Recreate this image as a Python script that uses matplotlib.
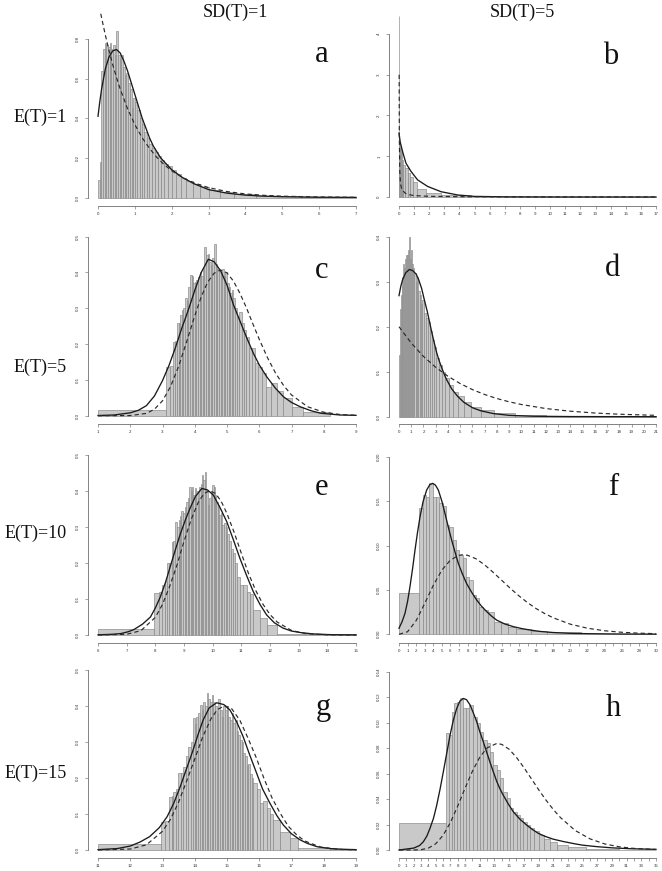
import numpy as np
import matplotlib
matplotlib.use("Agg")
import matplotlib.pyplot as plt

W, H = 662, 871

# ---------------- data ----------------
# panel a : E(T)=1, SD(T)=1
a_edges = [0, 0.045, 0.09, 0.135, 0.18, 0.225, 0.27, 0.315, 0.36, 0.405, 0.45, 0.495, 0.54, 0.585, 0.63,
           0.675, 0.72, 0.765, 0.81, 0.86, 0.91, 0.96, 1.01, 1.07, 1.13, 1.19, 1.25, 1.32, 1.39, 1.46,
           1.54, 1.62, 1.71, 1.80, 1.90, 2.00, 2.12, 2.25, 2.40, 2.57, 2.77, 3.00, 3.3, 3.7, 4.3, 5.5, 7.0]
a_heights = [0.09, 0.18, 0.64, 0.75, 0.78, 0.77, 0.76, 0.78, 0.75, 0.77, 0.72, 0.84, 0.72, 0.70, 0.72,
             0.66, 0.62, 0.63, 0.58, 0.55, 0.45, 0.50, 0.48, 0.44, 0.40, 0.37, 0.33, 0.30, 0.27, 0.25,
             0.23, 0.21, 0.19, 0.17, 0.16, 0.14, 0.12, 0.10, 0.085, 0.07, 0.055, 0.04, 0.028, 0.017, 0.007, 0.002]
a_solid_x = [0, 0.05, 0.1, 0.2, 0.3, 0.4, 0.5, 0.6, 0.7, 0.8, 0.9, 1.0, 1.1, 1.2, 1.3, 1.4, 1.5, 1.7, 2.0, 2.3, 2.6, 3.0, 3.5, 4.0, 4.5, 5, 6, 7]
a_solid_y = [0.41, 0.485, 0.55, 0.65, 0.71, 0.74, 0.747, 0.73, 0.69, 0.64, 0.58, 0.52, 0.46, 0.40, 0.35, 0.30, 0.26, 0.20, 0.14, 0.10, 0.07, 0.04, 0.022, 0.012, 0.007, 0.004, 0.0015, 0.0005]
a_dash_x = [0, 0.05, 0.1, 0.2, 0.3, 0.4, 0.5, 0.6, 0.8, 1.0, 1.2, 1.4, 1.6, 1.8, 2.0, 2.3, 2.6, 3.0, 3.5, 4.0, 4.5, 5, 6, 7]
a_dash_y = [1.0, 0.95, 0.905, 0.819, 0.741, 0.670, 0.607, 0.549, 0.449, 0.368, 0.301, 0.247, 0.202, 0.165, 0.135, 0.100, 0.074, 0.050, 0.030, 0.018, 0.011, 0.0067, 0.0025, 0.0009]

# panel b : E(T)=1, SD(T)=5
b_edges = [0, 0.012, 0.03, 0.06, 0.1, 0.17, 0.24, 0.4, 0.57, 0.73, 0.9, 1.19, 1.78, 2.78, 4.76, 17]
b_heights = [4.45, 1.5, 1.3, 1.2, 1.1, 0.9, 0.78, 0.72, 0.6, 0.5, 0.38, 0.19, 0.11, 0.05, 0.003]
b_solid_x = [0, 0.08, 0.24, 0.46, 0.79, 1.23, 1.89, 2.78, 3.88, 4.98, 7, 10, 17]
b_solid_y = [1.57, 1.35, 1.11, 0.83, 0.63, 0.42, 0.26, 0.13, 0.05, 0.015, 0.004, 0.001, 0.0]
b_dash_x = [0.01, 0.02, 0.05, 0.1, 0.2, 0.5, 1, 2, 4, 8, 12, 17]
b_dash_y = [3.0, 1.54, 0.64, 0.327, 0.168, 0.068, 0.0345, 0.017, 0.0081, 0.0035, 0.0021, 0.0012]

# panel c : E(T)=5, SD(T)=1
c_edges = [1, 3.10, 3.22, 3.32, 3.38, 3.44, 3.50, 3.55, 3.60, 3.65, 3.70, 3.75, 3.80, 3.85, 3.90, 3.95,
           4.00, 4.05, 4.10, 4.15, 4.20, 4.25, 4.30, 4.35, 4.40, 4.45, 4.50, 4.55, 4.60, 4.65, 4.70, 4.75,
           4.80, 4.85, 4.90, 4.95, 5.00, 5.05, 5.10, 5.15, 5.20, 5.26, 5.32, 5.38, 5.45, 5.52, 5.60, 5.68,
           5.77, 5.86, 5.96, 6.07, 6.20, 6.35, 6.54, 6.75, 7.01, 7.37, 8.2]
c_heights = [0.016, 0.137, 0.14, 0.207, 0.21, 0.258, 0.26, 0.28, 0.295, 0.30, 0.33, 0.32, 0.36, 0.393, 0.39,
             0.37, 0.374, 0.38, 0.388, 0.40, 0.39, 0.41, 0.472, 0.45, 0.453, 0.43, 0.42, 0.44, 0.481, 0.425,
             0.41, 0.407, 0.40, 0.41, 0.39, 0.40, 0.37, 0.36, 0.342, 0.35, 0.33, 0.30, 0.277, 0.29, 0.26,
             0.239, 0.22, 0.188, 0.19, 0.146, 0.137, 0.12, 0.081, 0.09, 0.07, 0.049, 0.025, 0.011]
c_solid_x = [1, 1.5, 2.0, 2.25, 2.5, 2.75, 3.0, 3.2, 3.4, 3.6, 3.8, 4.0, 4.2, 4.42, 4.6, 4.8, 5.0, 5.2, 5.4,
             5.6, 5.82, 6.0, 6.23, 6.5, 6.75, 7.0, 7.27, 7.6, 7.9, 8.5, 9]
c_solid_y = [0.0005, 0.002, 0.008, 0.015, 0.028, 0.055, 0.098, 0.14, 0.19, 0.245, 0.295, 0.35, 0.40, 0.437, 0.43,
             0.405, 0.365, 0.31, 0.265, 0.22, 0.174, 0.142, 0.109, 0.077, 0.053, 0.037, 0.025, 0.014, 0.007, 0.002, 0.001]
c_dash_x = [1, 2, 2.5, 2.75, 3, 3.25, 3.5, 3.75, 4, 4.2, 4.4, 4.6, 4.8, 5.0, 5.2, 5.4, 5.6, 5.8, 6, 6.25, 6.5, 6.75, 7, 7.5, 8, 8.5, 9]
c_dash_y = [0.0, 0.0004, 0.0064, 0.018, 0.0416, 0.0814, 0.138, 0.207, 0.279, 0.332, 0.373, 0.398, 0.407, 0.399, 0.376,
            0.342, 0.302, 0.257, 0.2135, 0.163, 0.120, 0.085, 0.058, 0.025, 0.0097, 0.0034, 0.0011]

# panel d : E(T)=5, SD(T)=5
d_edges = [0, 0.07, 0.14, 0.21, 0.28, 0.35, 0.43, 0.51, 0.59, 0.67, 0.75, 0.83, 0.91, 0.99, 1.08, 1.17,
           1.26, 1.36, 1.46, 1.57, 1.68, 1.80, 1.92, 2.05, 2.19, 2.34, 2.50, 2.67, 2.85, 3.05, 3.27, 3.51,
           3.78, 4.08, 4.42, 4.82, 5.30, 5.9, 6.7, 7.8, 9.5, 12, 21]
d_heights = [0.137, 0.24, 0.27, 0.29, 0.31, 0.34, 0.33, 0.35, 0.36, 0.36, 0.37, 0.40, 0.35, 0.37, 0.34,
             0.33, 0.32, 0.30, 0.31, 0.28, 0.27, 0.25, 0.26, 0.23, 0.22, 0.21, 0.19, 0.17, 0.155, 0.13,
             0.115, 0.10, 0.085, 0.07, 0.055, 0.045, 0.032, 0.022, 0.014, 0.008, 0.004, 0.0015]
d_solid_x = [0, 0.15, 0.3, 0.55, 0.84, 1.1, 1.4, 1.6, 1.85, 2.05, 2.3, 2.5, 2.7, 2.9, 3.1, 3.3, 3.5, 3.7, 3.9,
             4.3, 4.8, 5.3, 6, 6.7, 7.7, 9, 11, 14, 21]
d_solid_y = [0.269, 0.29, 0.305, 0.32, 0.327, 0.325, 0.317, 0.305, 0.285, 0.262, 0.235, 0.21, 0.185, 0.162, 0.14,
             0.123, 0.108, 0.094, 0.082, 0.062, 0.045, 0.032, 0.02, 0.013, 0.007, 0.003, 0.001, 0.0003, 0]
d_dash_x = [0, 1, 2, 3, 4, 5, 6, 7, 8, 9, 10, 12, 14, 16, 18, 21]
d_dash_y = [0.2, 0.1637, 0.134, 0.1098, 0.0899, 0.0736, 0.0602, 0.0493, 0.0404, 0.0331, 0.0271, 0.0181, 0.0122, 0.0082, 0.0055, 0.003]

# panel e : E(T)=10, SD(T)=1
e_edges = [6, 7.96, 8.12, 8.24, 8.32, 8.40, 8.48, 8.57, 8.63, 8.69, 8.75, 8.81, 8.86, 8.91, 8.97, 9.03,
           9.08, 9.13, 9.18, 9.23, 9.28, 9.33, 9.38, 9.43, 9.48, 9.53, 9.58, 9.63, 9.68, 9.73, 9.78, 9.83,
           9.88, 9.93, 9.98, 10.03, 10.08, 10.13, 10.18, 10.23, 10.28, 10.33, 10.39, 10.45, 10.51, 10.57,
           10.63, 10.70, 10.77, 10.85, 10.95, 11.07, 11.19, 11.30, 11.42, 11.65, 11.88, 12.23, 15]
e_heights = [0.0167, 0.116, 0.12, 0.139, 0.15, 0.199, 0.20, 0.259, 0.26, 0.315,
             0.30, 0.319, 0.33, 0.345, 0.34, 0.356, 0.37, 0.38, 0.412, 0.40,
             0.41, 0.39, 0.407, 0.40, 0.38, 0.41, 0.42, 0.444, 0.43, 0.453,
             0.40, 0.361, 0.38, 0.40, 0.417, 0.41, 0.39, 0.37, 0.36, 0.333,
             0.34, 0.306, 0.31, 0.30, 0.28, 0.26, 0.24, 0.227, 0.20, 0.16,
             0.139, 0.14, 0.12, 0.115, 0.069, 0.046, 0.028, 0.002]
e_solid_x = [6, 6.5, 6.8, 7.05, 7.25, 7.55, 7.83, 8.0, 8.17, 8.35, 8.52, 8.7, 8.86, 9.05, 9.21, 9.4, 9.62, 9.82,
             10.02, 10.25, 10.49, 10.72, 10.95, 11.2, 11.42, 11.65, 11.88, 12.15, 12.46, 12.75, 13.04, 13.5, 14.1, 15]
e_solid_y = [0.0005, 0.002, 0.004, 0.009, 0.015, 0.03, 0.05, 0.075, 0.105, 0.145, 0.19, 0.237, 0.278, 0.32, 0.352,
             0.385, 0.407, 0.403, 0.389, 0.355, 0.315, 0.265, 0.213, 0.162, 0.12, 0.085, 0.056, 0.034, 0.019, 0.011,
             0.007, 0.003, 0.001, 0.0002]
e_dash_x = [6, 7, 7.5, 8, 8.25, 8.5, 8.75, 9, 9.25, 9.5, 9.7, 9.9, 10.1, 10.3, 10.5, 10.75, 11.0, 11.25, 11.5, 11.75, 12.0, 12.25, 12.75, 13.25, 14, 15]
e_dash_y = [0.0, 0.002, 0.0122, 0.049, 0.085, 0.135, 0.193, 0.260, 0.321, 0.369, 0.393, 0.401, 0.393, 0.371, 0.337,
            0.285, 0.227, 0.171, 0.124, 0.086, 0.057, 0.036, 0.0127, 0.0038, 0.0005, 0.0]

# panel f : E(T)=10, SD(T)=5
f_edges = [0, 2.37, 2.76, 3.15, 3.54, 3.93, 4.32, 4.71, 5.1, 5.49, 5.88, 6.27, 6.65, 7.04, 7.43, 7.82,
           8.21, 8.6, 8.99, 9.38, 9.77, 10.35, 11.1, 11.9, 12.7, 13.6, 15.4, 17.3, 21.2, 30]
f_heights = [0.047, 0.142, 0.157, 0.155, 0.170, 0.155, 0.155, 0.1475, 0.144, 0.123, 0.121, 0.106, 0.095, 0.089,
             0.0856, 0.065, 0.061, 0.044, 0.041, 0.031, 0.027, 0.025, 0.014, 0.0124, 0.0086, 0.006, 0.0037, 0.0022, 0.0007]
f_solid_x = [0, 0.35, 0.7, 1.0, 1.28, 1.6, 1.87, 2.15, 2.45, 2.8, 3.23, 3.6, 3.93, 4.25, 4.59, 5.0, 5.37, 5.75,
             6.15, 6.5, 6.92, 7.4, 7.9, 8.5, 9.07, 9.6, 10.24, 10.8, 11.4, 12.3, 13.35, 14.3, 15.3, 16.5, 18, 20,
             22, 26, 30]
f_solid_y = [0.0068, 0.014, 0.0236, 0.037, 0.0536, 0.075, 0.095, 0.114, 0.132, 0.149, 0.1625, 0.1685, 0.170, 0.168,
             0.1625, 0.150, 0.136, 0.121, 0.106, 0.094, 0.08, 0.068, 0.057, 0.047, 0.0386, 0.032, 0.0255, 0.0205,
             0.016, 0.0118, 0.0086, 0.0065, 0.0048, 0.0032, 0.002, 0.0011, 0.0007, 0.0003, 0.0002]
f_dash_x = [0, 1, 2, 3, 4, 5, 6, 7, 7.5, 8, 9, 10, 11, 12, 13, 14, 15, 16, 17, 18, 20, 22, 24, 26, 28, 30]
f_dash_y = [0, 0.00286, 0.01534, 0.0347, 0.0551, 0.0722, 0.0836, 0.0890, 0.0896, 0.0890, 0.0850, 0.0782, 0.0697, 0.0607,
            0.0517, 0.0433, 0.0357, 0.0290, 0.0234, 0.0186, 0.0114, 0.00685, 0.0040, 0.00228, 0.00128, 0.00071]

# panel g : E(T)=15, SD(T)=1
g_edges = [11, 12.95, 13.08, 13.21, 13.28, 13.34, 13.42, 13.49, 13.56, 13.64, 13.72, 13.80, 13.87, 13.95,
           14.00, 14.05, 14.10, 14.16, 14.21, 14.26, 14.31, 14.37, 14.42, 14.47, 14.52, 14.58, 14.63, 14.68,
           14.73, 14.78, 14.83, 14.88, 14.94, 14.99, 15.04, 15.09, 15.15, 15.20, 15.25, 15.30, 15.35, 15.40,
           15.46, 15.51, 15.56, 15.61, 15.66, 15.72, 15.77, 15.82, 15.92, 16.02, 16.12, 16.23, 16.33, 16.44,
           16.64, 16.95, 17.21, 18.2, 19]
g_heights = [0.0167, 0.079, 0.08, 0.148, 0.15, 0.162, 0.17, 0.213, 0.215, 0.231, 0.26, 0.287, 0.30, 0.366,
             0.35, 0.37, 0.38, 0.403, 0.39, 0.41, 0.40, 0.435, 0.42, 0.41, 0.43, 0.412, 0.40, 0.38, 0.42,
             0.389, 0.37, 0.40, 0.39, 0.40, 0.37, 0.36, 0.38, 0.352, 0.36, 0.33, 0.32, 0.306, 0.30, 0.27,
             0.26, 0.236, 0.24, 0.21, 0.20, 0.185, 0.17, 0.13, 0.135, 0.116, 0.10, 0.083, 0.051, 0.032, 0.005, 0.002]
g_solid_x = [11, 11.6, 12.0, 12.3, 12.6, 12.9, 13.14, 13.35, 13.55, 13.75, 13.95, 14.1, 14.26, 14.45, 14.68, 14.9,
             15.09, 15.3, 15.5, 15.7, 15.92, 16.1, 16.33, 16.55, 16.75, 17.0, 17.27, 17.5, 17.8, 18.2, 18.6, 19]
g_solid_y = [0.001, 0.004, 0.011, 0.022, 0.037, 0.062, 0.092, 0.13, 0.176, 0.227, 0.278, 0.32, 0.361, 0.395, 0.409,
             0.404, 0.389, 0.356, 0.315, 0.265, 0.213, 0.17, 0.13, 0.095, 0.069, 0.045, 0.028, 0.018, 0.009, 0.004,
             0.002, 0.001]
g_dash_x = [11, 12, 12.5, 13, 13.25, 13.5, 13.75, 14, 14.25, 14.5, 14.7, 14.93, 15.15, 15.4, 15.65, 15.9, 16.15, 16.4, 16.65, 16.9, 17.15, 17.4, 17.9, 18.5, 19]
g_dash_y = [0.0001, 0.0027, 0.0143, 0.052, 0.0856, 0.133, 0.192, 0.253, 0.315, 0.364, 0.390, 0.401, 0.392, 0.360, 0.311,
            0.258, 0.198, 0.144, 0.102, 0.066, 0.043, 0.0255, 0.008, 0.0016, 0.0004]

# panel h : E(T)=15, SD(T)=5
h_edges = [0, 6.36, 6.81, 7.17, 7.49, 7.85, 8.3, 8.67, 9.12, 9.58, 10.03, 10.57, 11.03, 11.48, 11.93, 12.39,
           12.84, 13.3, 13.75, 14.2, 14.66, 15.11, 15.57, 16.02, 16.48, 16.93, 17.38, 17.84, 18.4, 19.0, 19.7,
           20.5, 21.5, 23, 25.5, 30, 35]
h_heights = [0.021, 0.0917, 0.0903, 0.1087, 0.1152, 0.1165, 0.1197, 0.1113, 0.1113, 0.1139, 0.1047, 0.0995,
             0.093, 0.0864, 0.0838, 0.0772, 0.0668, 0.0628, 0.0563, 0.0458, 0.0406, 0.0327, 0.03, 0.0275,
             0.0249, 0.0223, 0.0196, 0.017, 0.015, 0.012, 0.009, 0.0065, 0.004, 0.0022, 0.001, 0.0003]
h_solid_x = [0, 2, 2.8, 3.32, 3.8, 4.22, 4.7, 5.13, 5.6, 6.04, 6.5, 6.95, 7.4, 7.85, 8.3, 8.76, 9.2, 9.67, 10.1,
             10.57, 11.0, 11.48, 11.93, 12.39, 12.84, 13.3, 13.75, 14.2, 14.9, 15.57, 16.5, 17.38, 18.2, 19, 20, 21,
             22.5, 24, 25, 27, 29, 31.5, 35]
h_solid_y = [0, 0.0015, 0.0035, 0.0065, 0.011, 0.017, 0.025, 0.035, 0.048, 0.0615, 0.076, 0.09, 0.102, 0.111, 0.117,
             0.119, 0.118, 0.114, 0.108, 0.101, 0.093, 0.085, 0.077, 0.069, 0.0615, 0.054, 0.048, 0.043, 0.036, 0.030,
             0.024, 0.0196, 0.016, 0.013, 0.0105, 0.0085, 0.0065, 0.0048, 0.0038, 0.0026, 0.0017, 0.001, 0.0005]
h_dash_x = [0, 2, 3, 4, 5, 6, 7, 8, 9, 10, 11, 12, 13.33, 14, 15, 16, 17, 18, 19, 20, 21, 22, 24, 26, 28, 30, 32, 35]
h_dash_y = [0, 0.00002, 0.00027, 0.00148, 0.00486, 0.01147, 0.0216, 0.0345, 0.0486, 0.0619, 0.0729, 0.0802, 0.0837,
            0.0829, 0.0791, 0.0727, 0.0648, 0.0562, 0.0475, 0.0393, 0.0319, 0.0254, 0.0153, 0.00877, 0.00478, 0.0025, 0.00126, 0.00043]

# tick labels
a_xt = list(range(0, 8)); b_xt = list(range(0, 18)); c_xt = list(range(1, 10)); d_xt = list(range(0, 22))
e_xt = list(range(6, 16)); f_xt = list(range(0, 31)); g_xt = list(range(11, 20)); h_xt = list(range(0, 36))
f_xlab = [str(v) if (v <= 10 or v % 2 == 0) else "" for v in f_xt]
h_xlab = [str(v) if (v <= 9 or v % 2 == 1) else "" for v in h_xt]
yt_05 = [0.0, 0.1, 0.2, 0.3, 0.4, 0.5]
a_yt = [0.0, 0.2, 0.4, 0.6, 0.8]; b_yt = [0, 1, 2, 3, 4]; d_yt = [0.0, 0.1, 0.2, 0.3, 0.4]
f_yt = [0.0, 0.05, 0.10, 0.15, 0.20]; h_yt = [0.0, 0.02, 0.04, 0.06, 0.08, 0.10, 0.12, 0.14]

row_labels = ["E(T)=1", "E(T)=5", "E(T)=10", "E(T)=15"]
col_labels = ["SD(T)=1", "SD(T)=5"]

# ---------------- figure ----------------
fig = plt.figure(figsize=(W / 100, H / 100), dpi=100)
fig.patch.set_facecolor("white")

BAR_FC, BAR_EC = "#c9c9c9", "#858585"
AX_C = "#6e6e6e"

def px_axes(L, R, T, B, xcal, ycal):
    x0, p0, x1, p1 = xcal
    yv, pyv, py0 = ycal
    sx = (x1 - x0) / (p1 - p0)
    sy = yv / (py0 - pyv)
    ax = fig.add_axes([L / W, 1 - B / H, (R - L) / W, (B - T) / H])
    ax.set_facecolor("none")
    ax.set_xlim(x0 + (L - p0) * sx, x0 + (R - p0) * sx)
    ax.set_ylim(-(B - py0) * sy, (py0 - T) * sy)
    return ax

LEFT = (87.7, 366.3)
RIGHT = (388.7, 666.3)
ROWS = [(13, 206), (213, 423.5), (440, 642.5), (642, 858)]

panels = [
    ("a", LEFT, 0, (0, 98, 7, 356), (0.8, 39, 197.5), a_edges, a_heights, a_solid_x, a_solid_y, a_dash_x, a_dash_y, a_xt, None, a_yt, "%.1f", (322, 55)),
    ("b", RIGHT, 0, (0, 399, 17, 656), (4, 34, 197), b_edges, b_heights, b_solid_x, b_solid_y, b_dash_x, b_dash_y, b_xt, None, b_yt, "%d", (611, 57)),
    ("c", LEFT, 1, (1, 98, 9, 356), (0.5, 236.7, 415.7), c_edges, c_heights, c_solid_x, c_solid_y, c_dash_x, c_dash_y, c_xt, None, yt_05, "%.1f", (322, 270)),
    ("d", RIGHT, 1, (0, 399, 21, 656), (0.4, 236.7, 416.7), d_edges, d_heights, d_solid_x, d_solid_y, d_dash_x, d_dash_y, d_xt, None, d_yt, "%.1f", (613, 268)),
    ("e", LEFT, 2, (6, 98, 15, 356), (0.5, 455, 635), e_edges, e_heights, e_solid_x, e_solid_y, e_dash_x, e_dash_y, e_xt, None, yt_05, "%.1f", (322, 487)),
    ("f", RIGHT, 2, (0, 399, 30, 656), (0.2, 456.7, 634.3), f_edges, f_heights, f_solid_x, f_solid_y, f_dash_x, f_dash_y, f_xt, f_xlab, f_yt, "%.2f", (613, 487)),
    ("g", LEFT, 3, (11, 98, 19, 356), (0.5, 670, 850), g_edges, g_heights, g_solid_x, g_solid_y, g_dash_x, g_dash_y, g_xt, None, yt_05, "%.1f", (323, 708)),
    ("h", RIGHT, 3, (0, 399, 35, 656), (0.14, 671.7, 850), h_edges, h_heights, h_solid_x, h_solid_y, h_dash_x, h_dash_y, h_xt, h_xlab, h_yt, "%.2f", (613, 708)),
]

for (key, col, row, xcal, ycal, edges, heights, sx_, sy_, dx_, dy_, xt, xlab, yt, yfmt, lpos) in panels:
    T, B = ROWS[row]
    ax = px_axes(col[0], col[1], T, B, xcal, ycal)
    e = np.asarray(edges, dtype=float)
    ax.bar(e[:-1], heights, width=np.diff(e), align="edge", color=BAR_FC,
           edgecolor=BAR_EC, linewidth=0.45, zorder=1)
    ax.plot(sx_, sy_, color="#1a1a1a", lw=0.95, zorder=3, solid_joinstyle="round")
    ax.plot(dx_, dy_, color="#2a2a2a", lw=0.85, ls=(0, (3.6, 2.6)), zorder=3)

    for s in ("top", "right"):
        ax.spines[s].set_visible(False)
    for s in ("left", "bottom"):
        ax.spines[s].set_color(AX_C)
        ax.spines[s].set_linewidth(0.6)
    ax.spines["bottom"].set_bounds(xt[0], xt[-1])
    ax.spines["left"].set_bounds(yt[0], yt[-1])
    ax.set_xticks(xt)
    ax.set_xticklabels(xlab if xlab is not None else [str(v) for v in xt])
    ax.set_yticks(yt)
    ax.set_yticklabels([yfmt % v for v in yt])
    ax.tick_params(axis="x", direction="out", length=2.2, width=0.45, color=AX_C,
                   labelsize=3.2, labelcolor="#333333", pad=2.2)
    ax.tick_params(axis="y", direction="out", length=2.2, width=0.45, color=AX_C,
                   labelsize=3.2, labelcolor="#333333", pad=3.2, labelrotation=90)
    for lab in ax.get_xticklabels() + ax.get_yticklabels():
        lab.set_fontfamily("Liberation Sans")
    for lab in ax.get_yticklabels():
        lab.set_va("center")

    fig.text(lpos[0] / W, 1 - lpos[1] / H, key, fontsize=22, family="Liberation Serif",
             ha="center", va="center", color="#111111")

# row / column labels
row_y = [117, 367, 533, 773]
for lab, yy in zip(row_labels, row_y):
    fig.text(67 / W, 1 - yy / H, lab, fontsize=13, family="Liberation Serif",
             ha="right", va="center", color="#111111")
for lab, xx in zip(col_labels, [235, 522]):
    fig.text(xx / W, 1 - 12 / H, lab, fontsize=13, family="Liberation Serif",
             ha="center", va="center", color="#111111")

fig.savefig("out.png", dpi=100, facecolor="white")
